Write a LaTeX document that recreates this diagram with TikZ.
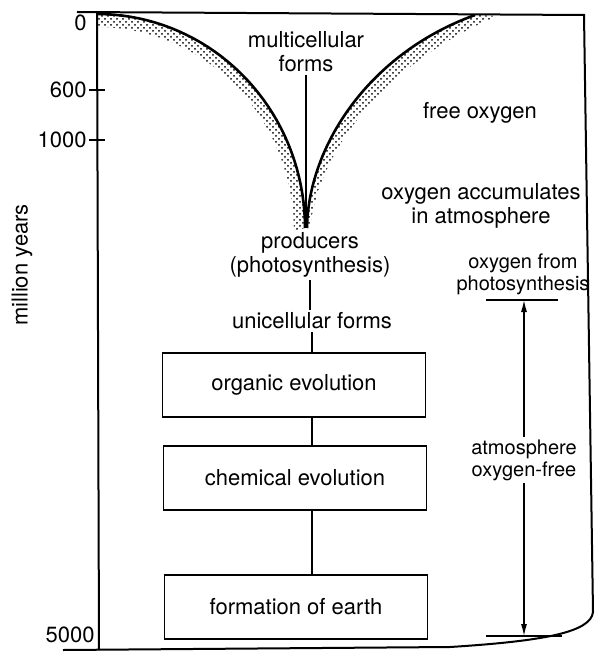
\documentclass[tikz,border=0pt]{standalone}
\usepackage{fontspec}
\setmainfont{TeX Gyre Heros}
\usetikzlibrary{arrows.meta,positioning,patterns}

\begin{document}
\begin{tikzpicture}[x=0.5pt,y=-0.5pt,
    every node/.style={font=\fontsize{11}{12}\selectfont, align=center, inner sep=1pt},
    stagebox/.style={draw, line width=0.7pt, minimum width=131.5pt, minimum height=32pt},
    sidelabel/.style={font=\fontsize{10}{11}\selectfont},
    stipple/.style={pattern=crosshatch dots, pattern color=black}]
    \useasboundingbox (0,0) rectangle (597,652);

    % Frame and time axis
    \draw[line width=1pt] (77,12) -- (584,15) -- (593,612)
        .. controls (591,632) and (545,641) .. (450,647) -- (63,650);
    \draw[line width=1pt] (97,12) -- (99,650);

    \node[anchor=east] (t0) at (89,23) {0};
    \node[anchor=east] (t600) at (89,90) {600};
    \node[anchor=east] (t1000) at (89,140) {1000};
    \node[anchor=east] (t5000) at (97,635) {5000};
    \draw[line width=0.7pt] (t600.east) -- ++(16,0);
    \draw[line width=0.7pt] (t1000.east) -- ++(16,0);
    \node[rotate=90] (myears) at (22,265) {million years};

    % Stippled curves
    \fill[stipple] plot[domain=90:0, samples=40] ({97+208*cos(\x)},{228-214*sin(\x)})
        -- plot[domain=0:90, samples=40] ({97+197*cos(\x)},{231-204*sin(\x)}) -- cycle;
    \draw[line width=1.3pt] plot[domain=90:0, samples=40] ({97+208*cos(\x)},{228-214*sin(\x)});

    \coordinate (cusp) at (306,228);
    \fill[stipple] (307,228) .. controls (308,150) and (365,55) .. (475,15)
        -- (497,16) .. controls (384,64) and (319,150) .. (310,228) -- cycle;
    \draw[line width=1.3pt] (307,228) .. controls (308,150) and (365,55) .. (475,15);

    % Central column
    \node (multi) at (306,52) {multicellular\\forms};
    \node (prod) at (310,255) {producers\\(photosynthesis)};
    \node (uni) at (312,321) {unicellular forms};
    \node[stagebox] (org) at (294,385) {organic evolution};
    \node[stagebox] (chem) at (295,478) {chemical evolution};
    \node[stagebox] (earth) at (296,607) {formation of earth};

    \draw[line width=0.6pt] (multi.south) -- (cusp);
    \draw[line width=0.6pt] (prod.south) -- (prod.south |- uni.north);
    \draw[line width=0.6pt] (uni.south) -- (uni.south |- org.north);
    \draw[line width=0.6pt] (org.south -| uni.south) -- (chem.north -| uni.south);
    \draw[line width=0.6pt] (chem.south -| uni.south) -- (earth.north -| uni.south);

    % Oxygen in the atmosphere
    \node (freeox) at (480,113) {free oxygen};
    \node (accum) at (481,206) {oxygen accumulates\\in atmosphere};
    \node[sidelabel] (photo) at (523,274) {oxygen from\\photosynthesis};
    \node[sidelabel] (afree) at (524,460) {atmosphere\\oxygen-free};

    \coordinate (arrtop) at (524,300);
    \coordinate (arrbot) at (524,636);
    \draw[line width=0.7pt] ([xshift=-19]arrtop) -- ([xshift=17]arrtop);
    \draw[line width=0.7pt] ([xshift=-19]arrbot) -- ([xshift=19]arrbot);
    \draw[line width=0.6pt, -{Latex[length=6pt,width=3pt]}] (afree.north) -- (arrtop);
    \draw[line width=0.6pt, -{Latex[length=6pt,width=3pt]}] (afree.south) -- (arrbot);
\end{tikzpicture}
\end{document}
